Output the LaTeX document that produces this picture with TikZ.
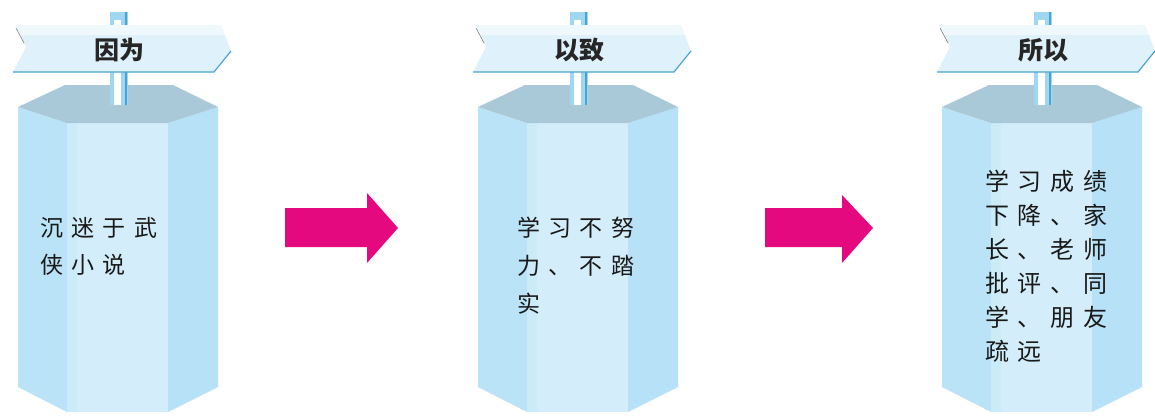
\documentclass[tikz,border=0pt]{standalone}
\usepackage{fontspec}
\newfontfamily\cjk{Noto Sans CJK SC}
\newfontfamily\cjkspaced[LetterSpace=36]{Noto Sans CJK SC}
\usepackage{tikz}

\definecolor{topgray}{HTML}{A9C9D9}
\definecolor{leftblue}{HTML}{BBE3F7}
\definecolor{frontblue}{HTML}{D3EEFA}
\definecolor{rightblue}{HTML}{B6E1F6}
\definecolor{signblue}{HTML}{DFF1FA}
\definecolor{edgeblue}{HTML}{4BA3D3}
\definecolor{poleblue}{HTML}{9FD7F2}
\definecolor{arrowpink}{HTML}{E5097F}

\tikzset{
  title/.style={font=\cjk\bfseries\fontsize{25}{25}\selectfont, text=black!85, inner sep=0pt},
  bodytext/.style={align=left, inner sep=0pt, anchor=north west, text=black!90},
  bigarrow/.style={fill=arrowpink},
}

\begin{document}
\begin{tikzpicture}[x=1pt,y=-1pt]
\useasboundingbox (0,0) rectangle (1155,415);
\fill[white] (0,0) rectangle (1155,415);
% three columns with their signs
\foreach \dx/\word in {0/因为,460/以致,924/所以}{
\begin{scope}[shift={(\dx,0)}]
\fill[leftblue]  (18,107)--(67,123)--(67,412)--(18,387)--cycle;
\fill[frontblue] (67,123)--(168,123)--(168,412)--(67,412)--cycle;
\fill[frontblue!70!leftblue] (67,123)--(77,123)--(77,412)--(67,412)--cycle;
\fill[rightblue] (168,123)--(218,107)--(218,387)--(168,412)--cycle;
\fill[topgray]   (65,85)--(173,85)--(218,107)--(168,123)--(67,123)--(18,107)--cycle;
% pole
\fill[poleblue] (110,12) rectangle (128,105);
\fill[white] (114,20) rectangle (121,105);
\draw[edgeblue, line width=1.5pt] (126,12)--(126,105);
% sign board
\fill[signblue] (15,25)--(221,25)--(231,51)--(214,72)--(13,72)--(26,47)--cycle;
\fill[white, opacity=0.5] (15,25)--(221,25)--(225,35)--(19,35)--cycle;
\draw[edgeblue, line width=1.2pt] (13,72)--(214,72)--(231,51);
\draw[black!50, line width=0.6pt] (16,28)--(24,43);
\node[title] (sign\dx) at (119,50) {\word};
\end{scope}
}
% texts on the columns
\node[bodytext, font=\cjkspaced\fontsize{23}{37}\selectfont] (cause) at (40,217) {沉迷于武\\侠小说};
\node[bodytext, font=\cjkspaced\fontsize{23}{38}\selectfont] (result) at (517,217) {学习不努\\力、不踏\\实};
\node[bodytext, font=\cjkspaced\fontsize{24}{34}\selectfont] (effect) at (985,170) {学习成绩\\下降、家\\长、老师\\批评、同\\学、朋友\\疏远};
% arrows
\fill[bigarrow] (285,208)--(367,208)--(367,193)--(398,228)--(367,263)--(367,247)--(285,247)--cycle;
\fill[bigarrow] (765,208)--(842,208)--(842,195)--(873,228)--(842,263)--(842,247)--(765,247)--cycle;
\end{tikzpicture}
\end{document}
